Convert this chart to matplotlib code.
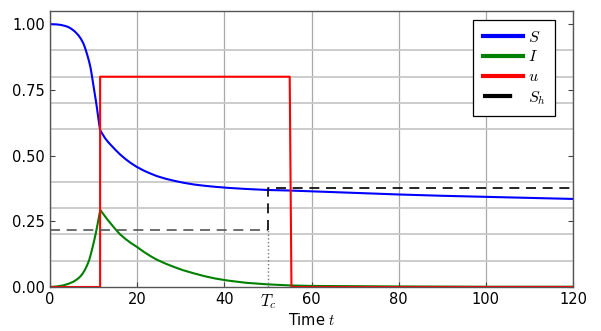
import matplotlib.pyplot as plt
import numpy as np

plt.rcParams['mathtext.fontset'] = 'cm'

# data
t_S = [0, 1.5, 2.5, 3.5, 4.2, 5.0, 5.7, 6.5, 7.1, 7.65, 8.1, 8.57, 9.0, 9.33,
       9.65, 9.95, 10.25, 10.56, 10.85, 11.1, 11.3, 11.5, 12.0, 12.6, 13.3,
       14.15, 15.0, 16.1, 17.3, 18.5, 19.9, 21.5, 23.0, 24.5, 26.5, 28.5,
       30.5, 33.0, 35.5, 38.0, 41, 45, 50, 55, 60, 70, 80, 90, 100, 110, 120]
S = [1.000, 0.999, 0.997, 0.993, 0.989, 0.981, 0.972, 0.958, 0.944, 0.927,
     0.907, 0.882, 0.856, 0.832, 0.800, 0.768, 0.737, 0.705, 0.672, 0.641,
     0.618, 0.597, 0.583, 0.567, 0.552, 0.537, 0.522, 0.504, 0.487, 0.472,
     0.457, 0.443, 0.432, 0.422, 0.412, 0.404, 0.397, 0.390, 0.385, 0.381,
     0.377, 0.373, 0.369, 0.367, 0.364, 0.358, 0.352, 0.347, 0.343, 0.339,
     0.335]

t_I = [0, 1.5, 3.0, 4.2, 5.35, 6.2, 6.9, 7.5, 8.0, 8.5, 9.0, 9.4, 9.8, 10.15,
       10.5, 10.8, 11.1, 11.3, 11.55, 12.3, 13.2, 14.2, 15.1, 16.1, 17.3,
       18.5, 19.9, 21.5, 23, 24.5, 26.5, 28.5, 30.5, 33, 35.5, 38, 41, 45,
       50, 55, 60, 70, 80, 100, 120]
I = [0.000, 0.002, 0.006, 0.012, 0.020, 0.029, 0.039, 0.051, 0.065, 0.082,
     0.103, 0.127, 0.153, 0.178, 0.204, 0.229, 0.255, 0.273, 0.293, 0.276,
     0.256, 0.236, 0.218, 0.200, 0.183, 0.168, 0.153, 0.134, 0.118, 0.104,
     0.089, 0.076, 0.064, 0.052, 0.041, 0.032, 0.024, 0.016, 0.010, 0.006,
     0.004, 0.003, 0.002, 0.001, 0.001]

t_u = [0, 11.5, 11.5, 55.0, 55.4, 120]
u = [0, 0, 0.8, 0.8, 0, 0]

T_c = 50
S_h_before = 0.215
S_h_after = 0.375

fig = plt.figure(figsize=(6.01, 3.31), dpi=100)
ax = fig.add_axes([50 / 601, 44 / 331, 523 / 601, 276 / 331])

ax.plot(t_S, S, color='#0000ff', lw=1.5, label='$S$')
ax.plot(t_I, I, color='#008000', lw=1.5, label='$I$')
ax.plot(t_u, u, color='#ff0000', lw=1.5, label='$u$')

# S_h
ax.plot([0, T_c], [S_h_before, S_h_before], color='#555555', lw=1.2,
        dashes=(6, 4))
ax.plot([T_c, T_c, 120], [S_h_before, S_h_after, S_h_after], color='black',
        lw=1.2, dashes=(6, 4))
ax.plot([T_c, T_c], [0, S_h_before], color='#777777', lw=1, ls=':')
ax.plot([], [], color='black', lw=2, dashes=(7, 3), label='$S_h$')

ax.set_xlim(0, 120)
ax.set_ylim(0, 1.05)
ax.set_xticks([0, 20, 40, 60, 80, 100, 120])
ax.set_xticks([T_c], ['$T_c$'], minor=True)
ax.set_yticks([0, 0.25, 0.5, 0.75, 1.0])
ax.set_yticks(np.arange(0, 1.01, 0.1), minor=True)
ax.tick_params(axis='both', which='both', direction='in', labelsize=10.5,
               right=True, color='#444444')
ax.tick_params(axis='y', which='minor', length=0)
ax.tick_params(axis='x', which='minor', length=0, labelsize=12)
ax.set_yticklabels(['0.00', '0.25', '0.50', '0.75', '1.00'])

ax.grid(which='major', axis='x', color='#aaaaaa', lw=0.9)
ax.grid(which='minor', axis='y', color='#c8c8c8', lw=1.3)
ax.set_axisbelow(True)
for sp in ax.spines.values():
    sp.set_color('#555555')
    sp.set_linewidth(1.0)

ax.set_xlabel('Time $t$', fontsize=10.5, labelpad=1)

leg = ax.legend(loc='upper right', bbox_to_anchor=(0.9656, 0.967),
                borderaxespad=0, fontsize=11.5, handlelength=2.5,
                fancybox=False, edgecolor='black', framealpha=1,
                labelspacing=0.3, handletextpad=0.3, borderpad=0.6)
leg.get_frame().set_linewidth(0.9)
for line in leg.get_lines():
    line.set_linewidth(3)

fig.savefig('out.png', dpi=100)
